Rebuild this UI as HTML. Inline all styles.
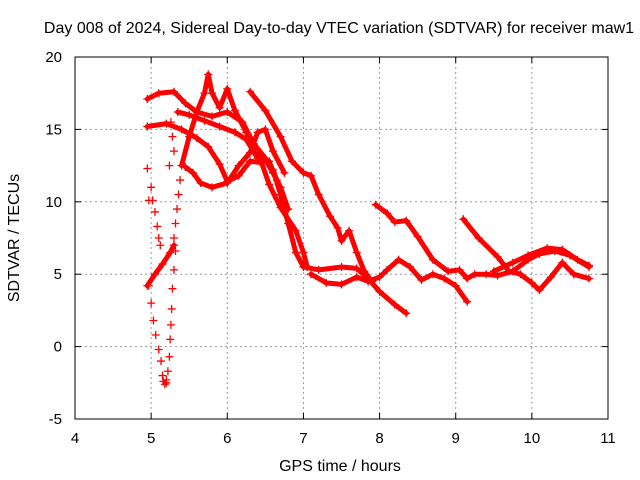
<!DOCTYPE html>
<html><head><meta charset="utf-8"><style>
body{margin:0;background:#fff}
svg{display:block;font-family:"Liberation Sans",sans-serif;font-size:15px}
</style></head><body>
<svg id="chart" width="640" height="480" viewBox="0 0 640 480">
<text x="339" y="33" text-anchor="middle" font-size="16">Day 008 of 2024, Sidereal Day-to-day VTEC variation (SDTVAR) for receiver maw1</text>
<g id="grid"></g>
<g id="ticks"></g>
<g id="marks"></g>
<rect x="75" y="57" width="533" height="362" fill="none" stroke="#000" stroke-width="1"/>
<text x="340" y="471" text-anchor="middle" font-size="16">GPS time / hours</text>
<text transform="translate(19,238) rotate(-90)" text-anchor="middle" font-size="16">SDTVAR / TECUs</text>
</svg>
<script>
const xTicks=[4,5,6,7,8,9,10,11];
const yTicks=[-5,0,5,10,15,20];
const track1=[[4.95,17.1],[5.1,17.5],[5.3,17.6],[5.45,16.8],[5.6,16.2],[5.8,15.9],[6.0,16.2],[6.2,15.5],[6.35,14.0],[6.5,13.0],[6.6,12.2],[6.7,10.5],[6.8,8.5],[6.9,6.5],[7.0,5.5],[7.2,5.3],[7.5,5.5],[7.7,5.4],[7.85,4.7],[8.0,3.8],[8.2,2.9],[8.35,2.3]];
const track2=[[4.95,15.2],[5.2,15.4],[5.4,15.0],[5.6,14.4],[5.75,13.8],[5.9,12.6],[6.0,11.4],[6.15,11.8],[6.3,12.8],[6.45,12.7],[6.55,11.2],[6.7,9.6],[6.9,8.0],[7.0,6.5],[7.05,5.5]];
const track3=[[5.4,12.5],[5.5,14.5],[5.6,16.2],[5.7,17.5],[5.75,18.8],[5.8,17.5],[5.9,16.5],[6.0,17.8],[6.1,16.3],[6.25,14.8],[6.35,13.4],[6.5,12.9],[6.6,12.0],[6.7,11.0],[6.8,9.5]];
const track4=[[5.35,16.2],[5.5,16.0],[5.7,15.6],[5.9,15.2],[6.1,14.8],[6.25,14.3],[6.4,13.0],[6.55,12.8],[6.65,11.5]];
const track5=[[5.45,12.4],[5.55,12.0],[5.65,11.3],[5.8,11.0],[6.0,11.3],[6.15,12.5],[6.3,13.4],[6.4,14.8],[6.5,15.0],[6.6,13.5],[6.75,12.0]];
const track6=[[6.3,17.6],[6.5,16.3],[6.7,14.5],[6.85,12.8],[7.0,12.0],[7.1,11.8],[7.2,10.5],[7.35,9.0],[7.45,8.2],[7.5,7.3],[7.6,8.0],[7.7,6.5],[7.8,5.2],[7.9,4.5]];
const track7=[[7.1,5.0],[7.3,4.4],[7.5,4.3],[7.7,4.8],[7.85,4.5],[8.0,4.8],[8.1,5.3],[8.25,6.0],[8.4,5.5],[8.55,4.6],[8.7,5.0],[8.85,4.7],[9.0,4.2],[9.15,3.1]];
const track8=[[7.95,9.8],[8.1,9.2],[8.2,8.6],[8.35,8.7],[8.5,7.6],[8.7,6.0],[8.9,5.2],[9.05,5.3],[9.15,4.7],[9.25,5.0],[9.4,5.0],[9.55,4.9],[9.75,5.2],[9.95,6.0],[10.1,6.4],[10.3,6.6],[10.5,6.3],[10.75,5.5]];
const track9=[[9.1,8.8],[9.3,7.5],[9.55,6.2],[9.7,5.2],[9.85,5.0],[10.0,4.4],[10.1,3.9],[10.25,4.8],[10.4,5.8],[10.55,5.0],[10.75,4.7]];
const track10=[[9.5,5.2],[9.75,5.8],[9.95,6.3],[10.2,6.8],[10.4,6.7],[10.6,6.0],[10.75,5.6]];
const track11=[[4.95,4.2],[5.05,5.0],[5.15,5.7],[5.25,6.5],[5.3,7.0]];
const sparse1=[[5.32,6.6],[5.3,5.3],[5.28,4.0],[5.27,2.6],[5.26,1.5],[5.25,0.5],[5.24,-0.7],[5.22,-1.7],[5.2,-2.3]];
const sparse2=[[4.97,4.2],[5.0,3.0],[5.03,1.8],[5.06,0.8],[5.1,-0.2],[5.13,-1.0],[5.15,-2.0],[5.18,-2.6],[5.16,-2.4],[5.2,-2.5]];
const sparse3=[[4.95,12.3],[5.0,11.0],[5.02,10.1],[4.97,10.1],[5.05,9.3],[5.08,8.3],[5.1,7.5],[5.12,7.0]];
const sparse4=[[5.3,7.5],[5.32,8.5],[5.34,9.5],[5.36,10.5],[5.38,11.5],[5.3,13.5],[5.28,14.5],[5.26,15.5],[5.24,12.5]];
const tracks=[track1,track2,track3,track4,track5,track6,track7,track8,track9,track10,track11];
const sparse=[sparse1,sparse2,sparse3,sparse4];
const NS="http://www.w3.org/2000/svg";
const X=h=>75+(h-4)*533/7;
const Y=v=>57+(20-v)*362/25;
const grid=document.getElementById('grid'),ticks=document.getElementById('ticks'),marks=document.getElementById('marks');
function mk(tag,attrs,parent){const e=document.createElementNS(NS,tag);for(const k in attrs)e.setAttribute(k,attrs[k]);parent.appendChild(e);return e;}
xTicks.forEach(t=>{
 if(t>4&&t<11){const g=mk('line',{x1:X(t),x2:X(t),y1:57,y2:419,stroke:'#999','stroke-dasharray':'2,3'},grid);
 
 }
 const a=mk('line',{x1:X(t),x2:X(t),y1:419,y2:413,stroke:'#000'},ticks);
 
 
 const b=mk('line',{x1:X(t),x2:X(t),y1:57,y2:63,stroke:'#000'},ticks);
 
 
 const l=mk('text',{x:X(t),y:443,'text-anchor':'middle'},ticks);l.textContent=t;
 
 
});
yTicks.forEach(t=>{
 if(t>-5&&t<20){const g=mk('line',{x1:75,x2:608,y1:Y(t),y2:Y(t),stroke:'#999','stroke-dasharray':'2,3'},grid);
 
 }
 const a=mk('line',{x1:75,x2:81,y1:Y(t),y2:Y(t),stroke:'#000'},ticks);
 
 
 const b=mk('line',{x1:602,x2:608,y1:Y(t),y2:Y(t),stroke:'#000'},ticks);
 
 
 const l=mk('text',{x:62,y:Y(t)+5,'text-anchor':'end'},ticks);l.textContent=t;
 
 
});
function plus(h,v){const p=mk('path',{d:`M${X(h)-4},${Y(v)}h8M${X(h)},${Y(v)-4}v8`,stroke:'#f00','stroke-width':1.3,fill:'none'},marks);
 
 }
tracks.forEach(tr=>{
 const pl=mk('polyline',{points:tr.map(p=>X(p[0])+','+Y(p[1])).join(' '),fill:'none',stroke:'#f00','stroke-width':5,'stroke-linejoin':'round','stroke-linecap':'round'},marks);
 
 
 tr.forEach(p=>plus(p[0],p[1]));
});
sparse.forEach(s=>s.forEach(p=>plus(p[0],p[1])));
</script>
</body></html>
